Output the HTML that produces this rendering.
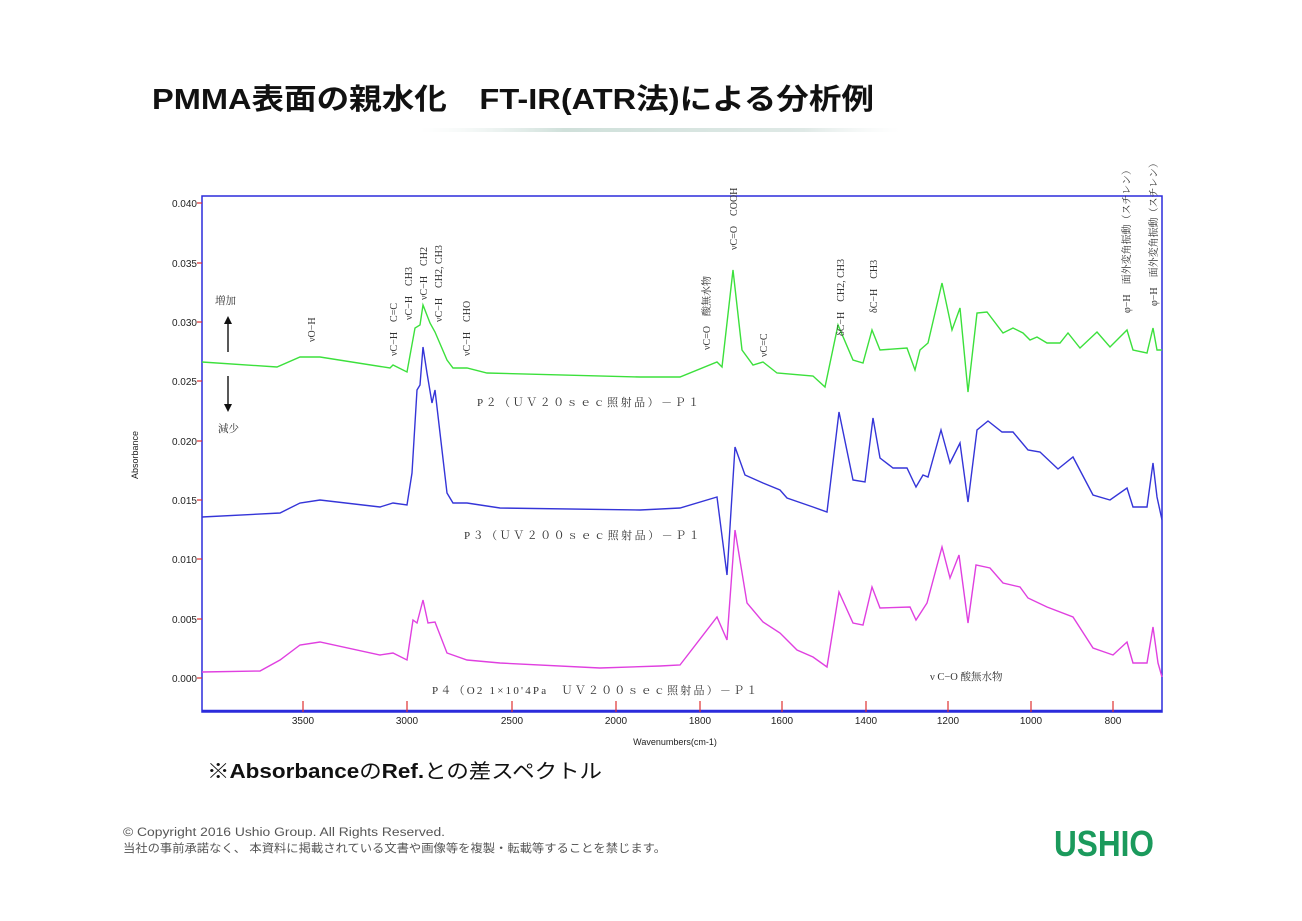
<!DOCTYPE html>
<html><head><meta charset="utf-8"><style>
html,body{margin:0;padding:0;background:#fff;width:1302px;height:921px;overflow:hidden}
svg{display:block}
</style></head><body>
<svg width="1302" height="921" viewBox="0 0 1302 921" xmlns="http://www.w3.org/2000/svg" font-family="'Liberation Sans','Noto Sans CJK JP',sans-serif">
<defs><linearGradient id="g" x1="0" x2="1"><stop offset="0" stop-color="#e8f0ee" stop-opacity="0"/><stop offset="0.3" stop-color="#cfe0da"/><stop offset="0.8" stop-color="#dfe9e6"/><stop offset="1" stop-color="#eef3f2" stop-opacity="0"/></linearGradient></defs>
<text x="152" y="109" font-size="29" font-weight="bold" fill="#111" textLength="722" lengthAdjust="spacingAndGlyphs">PMMA表面の親水化　FT-IR(ATR法)による分析例</text>
<rect x="420" y="128" width="480" height="4" fill="url(#g)"/>

<!-- plot frame -->
<rect x="202" y="196" width="960" height="516" fill="none" stroke="#2b2bdc" stroke-width="1.5"/>
<line x1="202" y1="711" x2="1162" y2="711" stroke="#2b2bdc" stroke-width="2.5"/>
<g stroke="#e03030" stroke-width="1.2">
<line x1="197" y1="203" x2="202" y2="203"/><line x1="197" y1="263" x2="202" y2="263"/><line x1="197" y1="322" x2="202" y2="322"/><line x1="197" y1="381" x2="202" y2="381"/><line x1="197" y1="441" x2="202" y2="441"/><line x1="197" y1="500" x2="202" y2="500"/><line x1="197" y1="559" x2="202" y2="559"/><line x1="197" y1="619" x2="202" y2="619"/><line x1="197" y1="678" x2="202" y2="678"/>
<line x1="303" y1="701" x2="303" y2="712"/><line x1="407" y1="701" x2="407" y2="712"/><line x1="512" y1="701" x2="512" y2="712"/><line x1="616" y1="701" x2="616" y2="712"/><line x1="700" y1="701" x2="700" y2="712"/><line x1="782" y1="701" x2="782" y2="712"/><line x1="866" y1="701" x2="866" y2="712"/><line x1="948" y1="701" x2="948" y2="712"/><line x1="1031" y1="701" x2="1031" y2="712"/><line x1="1113" y1="701" x2="1113" y2="712"/>
</g>
<g font-size="10" fill="#222" text-anchor="end">
<text x="197" y="207">0.040</text><text x="197" y="267">0.035</text><text x="197" y="326">0.030</text><text x="197" y="385">0.025</text><text x="197" y="445">0.020</text><text x="197" y="504">0.015</text><text x="197" y="563">0.010</text><text x="197" y="623">0.005</text><text x="197" y="682">0.000</text>
</g>
<g font-size="10" fill="#222" text-anchor="middle">
<text x="303" y="724">3500</text><text x="407" y="724">3000</text><text x="512" y="724">2500</text><text x="616" y="724">2000</text><text x="700" y="724">1800</text><text x="782" y="724">1600</text><text x="866" y="724">1400</text><text x="948" y="724">1200</text><text x="1031" y="724">1000</text><text x="1113" y="724">800</text>
<text x="675" y="745" font-size="9">Wavenumbers(cm-1)</text>
</g>
<text transform="translate(138,455) rotate(-90)" font-size="9" text-anchor="middle" fill="#222">Absorbance</text>

<!-- series -->
<polyline fill="none" stroke="#3ce03c" stroke-width="1.4" points="202,362 277,367 300,357 320,357 390,368 393,365 407,372 415,328 420,325 423,305 430,323 435,332 447,360 453,368 467,368 487,373 640,377 680,377 717,362 722,367 733,270 742,350 753,365 763,362 777,373 813,376 825,387 838,325 853,360 863,363 872,330 880,350 907,348 915,370 920,350 928,343 942,283 952,330 960,308 968,392 977,313 987,312 1003,333 1013,328 1023,333 1030,340 1037,337 1047,343 1060,343 1068,333 1080,348 1097,332 1110,347 1127,330 1133,350 1147,353 1153,328 1157,350 1162,350"/>
<polyline fill="none" stroke="#3535d8" stroke-width="1.4" points="202,517 280,513 300,503 320,500 380,507 393,503 407,505 412,473 417,390 420,385 423,347 427,373 432,403 435,390 440,433 447,493 453,503 467,503 500,508 640,510 680,508 717,497 727,575 735,447 745,475 763,483 780,490 787,498 813,507 827,512 839,412 853,480 865,482 873,418 880,458 893,468 907,468 916,487 923,475 928,477 941,430 950,463 960,443 968,502 977,430 988,421 1002,432 1013,432 1028,450 1040,452 1058,469 1073,457 1093,495 1110,500 1127,488 1133,507 1147,507 1153,463 1157,497 1162,520"/>
<polyline fill="none" stroke="#e040e0" stroke-width="1.4" points="202,672 260,671 280,660 300,645 320,642 380,655 393,653 407,660 413,620 417,623 423,600 428,623 435,622 447,653 467,660 500,663 600,668 660,666 680,665 717,617 727,640 735,530 747,603 763,622 780,633 797,650 813,657 827,667 839,592 853,623 863,625 872,587 880,608 910,607 916,620 927,603 942,547 950,578 959,555 968,623 976,565 990,568 1003,583 1020,587 1028,598 1047,607 1073,617 1093,648 1113,655 1127,642 1133,663 1147,663 1153,627 1158,663 1162,677"/>

<!-- annotations -->
<g font-size="10" fill="#333" font-family="'Liberation Serif','Noto Serif CJK SC',serif">
<text transform="translate(315,342) rotate(-90)">νO−H</text>
<text transform="translate(397,356) rotate(-90)">νC−H　C=C</text>
<text transform="translate(412,320) rotate(-90)">νC−H　CH3</text>
<text transform="translate(427,300) rotate(-90)">νC−H　CH2</text>
<text transform="translate(442,322) rotate(-90)">νC−H　CH2, CH3</text>
<text transform="translate(470,356) rotate(-90)">νC−H　CHO</text>
<text transform="translate(710,350) rotate(-90)">νC=O　酸無水物</text>
<text transform="translate(737,250) rotate(-90)">νC=O　COOH</text>
<text transform="translate(767,357) rotate(-90)">νC=C</text>
<text transform="translate(844,336) rotate(-90)">δC−H　CH2, CH3</text>
<text transform="translate(877,313) rotate(-90)">δC−H　CH3</text>
<text transform="translate(1130,313) rotate(-90)">φ−H　面外変角振動（スチレン）</text>
<text transform="translate(1157,306) rotate(-90)">φ−H　面外変角振動（スチレン）</text>
<text x="477" y="406" font-size="11" letter-spacing="2.5">P２（ＵＶ２０ｓｅｃ照射品）－Ｐ１</text>
<text x="464" y="539" font-size="11" letter-spacing="2.5">P３（ＵＶ２００ｓｅｃ照射品）－Ｐ１</text>
<text x="432" y="694" font-size="11" letter-spacing="2.2">P４（O2 1×10'4Pa　ＵＶ２００ｓｅｃ照射品）－Ｐ１</text>
<text x="930" y="680" font-size="10.5">ν C−O 酸無水物</text>
<text x="215" y="304" font-size="10.5">増加</text>
<text x="218" y="432" font-size="10.5">減少</text>
</g>
<g stroke="#111" stroke-width="1.4" fill="#111">
<line x1="228" y1="352" x2="228" y2="322"/><polygon points="224,324 228,316 232,324" stroke="none"/>
<line x1="228" y1="376" x2="228" y2="406"/><polygon points="224,404 228,412 232,404" stroke="none"/>
</g>

<text x="207" y="778" font-size="20" fill="#111" textLength="395" lengthAdjust="spacingAndGlyphs">※<tspan font-weight="bold">Absorbance</tspan>の<tspan font-weight="bold">Ref.</tspan>との差スペクトル</text>
<text x="123" y="836" font-size="11.5" fill="#555" textLength="322" lengthAdjust="spacingAndGlyphs">© Copyright 2016 Ushio Group.  All Rights Reserved.</text>
<text x="123" y="852" font-size="11.5" fill="#555" textLength="543" lengthAdjust="spacingAndGlyphs">当社の事前承諾なく、 本資料に掲載されている文書や画像等を複製・転載等することを禁じます。</text>
<text x="1054" y="856" font-size="36" font-weight="bold" fill="#1b9a5c" textLength="100" lengthAdjust="spacingAndGlyphs">USHIO</text>
</svg>
</body></html>
